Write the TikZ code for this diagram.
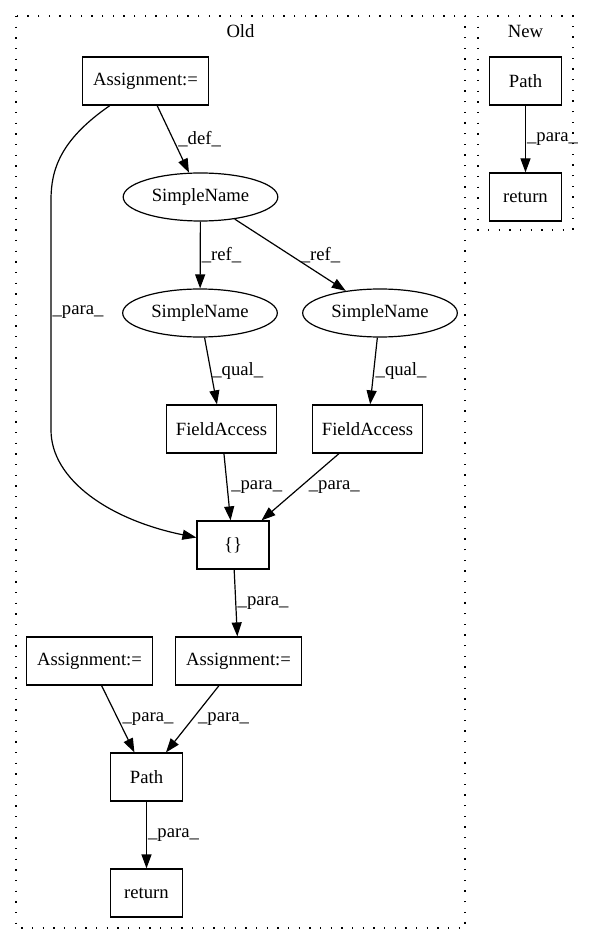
\documentclass[tikz,border=0pt]{standalone}
\usepackage{fontspec}
\setmainfont{Liberation Serif}
\usepackage{tikz}
\usetikzlibrary{shapes,arrows.meta,positioning}

\begin{document}
\begin{tikzpicture}[
    x=0.75pt, y=-0.75pt,
    font=\fontsize{14}{16}\selectfont,
    box/.style={rectangle, draw, line width=0.9pt, minimum height=36pt, inner sep=0pt},
    oval/.style={ellipse, draw, line width=0.9pt, minimum width=116pt, minimum height=36pt, inner sep=0pt},
    arrow/.style={-{Triangle[length=10.5pt,width=7.5pt]}, line width=0.9pt},
    lbl/.style={anchor=west, inner sep=0pt},
    cluster/.style={draw, line width=0.9pt, dash pattern=on 0.9pt off 7.1pt}
]
\useasboundingbox (0,0) rectangle (589,944);

% clusters
\draw[cluster] (16,16) rectangle (465,928);
\draw[cluster] (478,16) rectangle (573,230);
\node (oldlbl) at (240.5,31) {Old};
\node (newlbl) at (525.5,31) {New};

% old
\node[box, minimum width=94pt] (asgtop) at (145.5,81) {Assignment:=};
\node[oval] (sntop) at (200.5,197) {SimpleName};
\node[oval] (snleft) at (200,313) {SimpleName};
\node[oval] (snright) at (380,313) {SimpleName};
\node[box, minimum width=83pt] (faleft) at (221.5,429) {FieldAccess};
\node[box, minimum width=83pt] (faright) at (367.5,429) {FieldAccess};
\node[box, minimum width=54pt] (braces) at (233,545) {\{\}};
\node[box, minimum width=94pt] (asgleft) at (89.5,661) {Assignment:=};
\node[box, minimum width=94pt] (asgmid) at (238.5,661) {Assignment:=};
\node[box, minimum width=54pt] (path) at (146.5,777) {Path};
\node[box, minimum width=54pt] (ret) at (146.5,893) {return};

% new
\node[box, minimum width=54pt] (newpath) at (525.5,81) {Path};
\node[box, minimum width=54pt] (newret) at (525.5,197) {return};

\draw[arrow] (asgtop) -- node[lbl, xshift=3.5pt] {\_def\_} (sntop);
\draw[arrow] (asgtop) .. controls (60,140) and (51,170) .. (51,200)
    -- node[lbl, pos=0.487, xshift=0.75pt] {\_para\_} (51,430)
    .. controls (51,480) and (110,520) .. (braces);
\draw[arrow] (sntop) -- node[lbl, xshift=0.75pt] {\_ref\_} (snleft);
\draw[arrow] (sntop) -- node[lbl, xshift=7.5pt] {\_ref\_} (snright);
\draw[arrow] (snleft) -- node[lbl, xshift=0.75pt] {\_qual\_} (faleft);
\draw[arrow] (snright) -- node[lbl, xshift=1pt] {\_qual\_} (faright);
\draw[arrow] (faleft) -- node[lbl, xshift=2.6pt] {\_para\_} (braces);
\draw[arrow] (faright) -- node[lbl, xshift=6pt] {\_para\_} (braces);
\draw[arrow] (braces) -- node[lbl, xshift=1pt] {\_para\_} (asgmid);
\draw[arrow] (asgleft) -- node[lbl, xshift=3pt] {\_para\_} (path);
\draw[arrow] (asgmid) -- node[lbl, xshift=3.75pt] {\_para\_} (path);
\draw[arrow] (path) -- node[lbl, xshift=0.75pt] {\_para\_} (ret);
\draw[arrow] (newpath) -- node[lbl, xshift=0.75pt] {\_para\_} (newret);
\end{tikzpicture}
\end{document}
